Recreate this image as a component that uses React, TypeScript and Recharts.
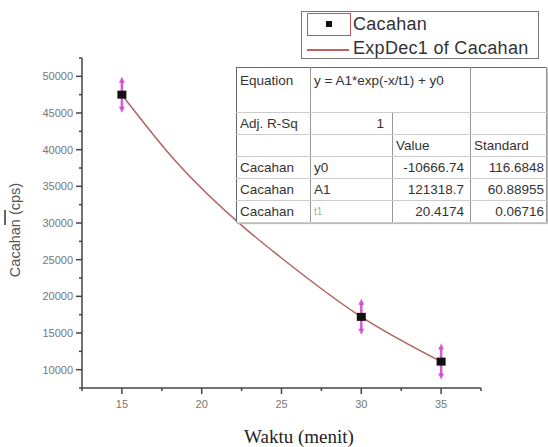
import { ScatterChart, Scatter, XAxis, YAxis } from 'recharts'

// measured points
const waktu = [15, 30, 35]
const cacahan = [47500, 17200, 11100]

// fit curve
const fitWaktu = [15, 18.3, 22.7, 24.9, 30, 35]
const fitCacahan = [47500, 38600, 29300, 25400, 17200, 11100]

const xTicks = [12.5, 15, 17.5, 20, 22.5, 25, 27.5, 30, 32.5, 35, 37.5]
const xMajor = [15, 20, 25, 30, 35]
const yTicks = [7500, 10000, 12500, 15000, 17500, 20000, 22500, 25000, 27500, 30000, 32500, 35000, 37500, 40000, 42500, 45000, 47500, 50000, 52500]
const yMajor = [10000, 15000, 20000, 25000, 30000, 35000, 40000, 45000, 50000]

const tableRows = [
  ['Cacahan', 'y0', '-10666.74', '116.6848'],
  ['Cacahan', 'A1', '121318.7', '60.88955'],
  ['Cacahan', 't1', '20.4174', '0.06716'],
]

const points = waktu.map((x, i) => ({ x, y: cacahan[i] }))
const fit = fitWaktu.map((x, i) => ({ x, y: fitCacahan[i] }))

const AXIS = '#444'
const FIT = '#b06464'
const MAGENTA = '#cc33cc'

function YTick({ x, y, payload }: any) {
  const major = yMajor.includes(payload.value)
  return (
    <g>
      <line x1={x} x2={x - (major ? 6 : 3)} y1={y} y2={y} stroke={AXIS} strokeWidth={1.5} />
      {major && (
        <text x={x - 9} y={y} dy={4} textAnchor="end" fontSize={11} fill="#777" fontFamily="Arial">
          {payload.value}
        </text>
      )}
    </g>
  )
}

function XTick({ x, y, payload }: any) {
  const major = xMajor.includes(payload.value)
  return (
    <g>
      <line x1={x} x2={x} y1={y} y2={y + (major ? 6 : 3)} stroke={AXIS} strokeWidth={1.5} />
      {major && (
        <text x={x} y={y + 20} textAnchor="middle" fontSize={11} fill="#777" fontFamily="Arial">
          {payload.value}
        </text>
      )}
    </g>
  )
}

function PointShape({ cx, cy }: any) {
  return (
    <g>
      <line x1={cx} x2={cx} y1={cy - 13} y2={cy + 13} stroke={MAGENTA} strokeWidth={2.5} opacity={0.8} />
      <polygon points={`${cx - 3},${cy - 12} ${cx + 3},${cy - 12} ${cx},${cy - 18}`} fill={MAGENTA} opacity={0.8} />
      <polygon points={`${cx - 3},${cy + 12} ${cx + 3},${cy + 12} ${cx},${cy + 18}`} fill={MAGENTA} opacity={0.8} />
      <rect x={cx - 4.5} y={cy - 4} width={9} height={8} fill="#111" />
    </g>
  )
}

const cell: React.CSSProperties = {
  borderRight: '1px solid #999',
  borderBottom: '1px solid #ccc',
  padding: '0 3px',
  overflow: 'hidden',
  whiteSpace: 'nowrap',
}

export default function App() {
  return (
    <div style={{ position: 'absolute', left: 0, top: 0, width: 548, height: 447, background: '#fff', fontFamily: 'Arial, "Liberation Sans", sans-serif' }}>
      <ScatterChart width={548} height={447} margin={{ top: 58, right: 67, bottom: 29, left: 12 }}>
        <XAxis
          type="number"
          dataKey="x"
          domain={[12.5, 37.5]}
          ticks={xTicks}
          interval={0}
          height={30}
          tickSize={0}
          tickMargin={0}
          tick={<XTick />}
          stroke={AXIS}
          strokeWidth={1.5}
          label={{
            content: () => (
              <text x={299} y={443} textAnchor="middle" fontSize={19} fontFamily='"Liberation Serif", "Times New Roman", serif' fill="#222">
                Waktu (menit)
              </text>
            ),
          }}
        />
        <YAxis
          type="number"
          dataKey="y"
          domain={[7500, 52500]}
          ticks={yTicks}
          interval={0}
          width={70}
          tickSize={0}
          tickMargin={0}
          tick={<YTick />}
          stroke={AXIS}
          strokeWidth={1.5}
          label={{
            content: () => (
              <g>
                <line x1={5} x2={5} y1={210} y2={225} stroke="#333" strokeWidth={1.5} />
                <text x={20} y={230} transform="rotate(-90 20 230)" textAnchor="middle" fontSize={14.5} fontFamily="Arial" fill="#555">
                  Cacahan (cps)
                </text>
              </g>
            ),
          }}
        />
        <Scatter
          data={fit}
          line={{ stroke: FIT, strokeWidth: 1.5 }}
          lineJointType="monotone"
          shape={() => <g />}
          isAnimationActive={false}
        />
        <Scatter data={points} shape={<PointShape />} isAnimationActive={false} />
      </ScatterChart>

      {/* legend */}
      <div style={{ position: 'absolute', left: 301, top: 11, width: 236, height: 46, border: '1px solid #777', background: '#fff', color: '#333', fontSize: 18, letterSpacing: 0.3 }}>
        <div style={{ position: 'absolute', left: 5, top: 1, width: 42, height: 21, border: '1px solid #c05858' }} />
        <div style={{ position: 'absolute', left: 24, top: 9, width: 6, height: 6, background: '#111' }} />
        <div style={{ position: 'absolute', left: 51, top: 1, lineHeight: '22px' }}>Cacahan</div>
        <div style={{ position: 'absolute', left: 5, top: 37, width: 42, height: 1.5, background: '#c06060' }} />
        <div style={{ position: 'absolute', left: 51, top: 25, lineHeight: '22px' }}>ExpDec1 of Cacahan</div>
      </div>

      {/* fit results table */}
      <table
        style={{
          position: 'absolute',
          left: 236,
          top: 67,
          width: 311,
          borderCollapse: 'collapse',
          tableLayout: 'fixed',
          border: '1.5px solid #666',
          background: '#fff',
          fontSize: 13.5,
          color: '#333',
          boxShadow: '1px 1px 1px #bbb',
        }}
      >
        <colgroup>
          <col style={{ width: 74 }} />
          <col style={{ width: 82 }} />
          <col style={{ width: 78 }} />
          <col style={{ width: 76 }} />
        </colgroup>
        <tbody>
          <tr style={{ height: 45 }}>
            <td style={{ ...cell, verticalAlign: 'top', paddingTop: 5 }}>Equation</td>
            <td colSpan={2} style={{ ...cell, verticalAlign: 'top', paddingTop: 5 }}>y = A1*exp(-x/t1) + y0</td>
            <td style={cell}></td>
          </tr>
          <tr style={{ height: 22 }}>
            <td style={cell}>Adj. R-Sq</td>
            <td style={{ ...cell, textAlign: 'right', paddingRight: 8 }}>1</td>
            <td style={cell}></td>
            <td style={cell}></td>
          </tr>
          <tr style={{ height: 22 }}>
            <td style={cell}></td>
            <td style={cell}></td>
            <td style={cell}>Value</td>
            <td style={cell}>Standard</td>
          </tr>
          {tableRows.map((r, i) => (
            <tr key={i} style={{ height: 22 }}>
              <td style={cell}>{r[0]}</td>
              <td style={{ ...cell, color: r[1] === 't1' ? '#aaa' : '#333', fontSize: r[1] === 't1' ? 10 : 13.5 }}>{r[1]}</td>
              <td style={{ ...cell, textAlign: 'right', paddingRight: 6 }}>{r[2]}</td>
              <td style={{ ...cell, textAlign: 'right', paddingRight: 2 }}>{r[3]}</td>
            </tr>
          ))}
        </tbody>
      </table>
    </div>
  )
}
